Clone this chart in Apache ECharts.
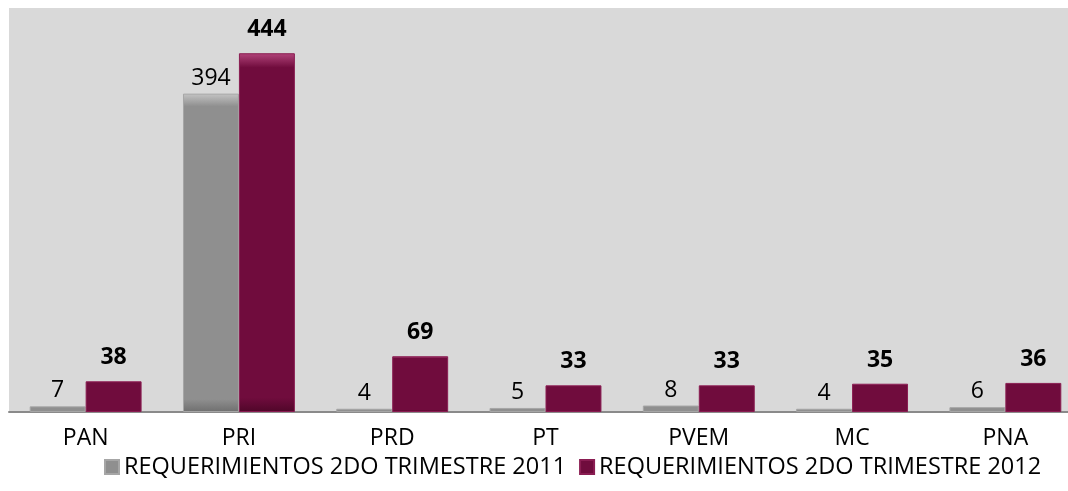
<!DOCTYPE html>
<html><head><meta charset="utf-8">
<script src="https://cdn.jsdelivr.net/npm/echarts@6/dist/echarts.min.js"></script>
<style>html,body{margin:0;padding:0;background:#fff}#c{width:1068px;height:491px}</style>
</head><body><div id="c"></div>
<script>
const categories = ['PAN','PRI','PRD','PT','PVEM','MC','PNA'];
const seriesNames = ['REQUERIMIENTOS 2DO TRIMESTRE 2011','REQUERIMIENTOS 2DO TRIMESTRE 2012'];
const values2011 = [7,394,4,5,8,4,6];
const values2012 = [38,444,69,33,33,35,36];

const font = '"Open Sans", "Noto Sans", sans-serif';
const chart = echarts.init(document.getElementById('c'));
function grad(light, mid, dark){
  return new echarts.graphic.LinearGradient(0,0,0,1,[
    {offset:0,color:light},{offset:0.04,color:mid},{offset:0.96,color:mid},{offset:1,color:dark}
  ]);
}
chart.setOption({
  animation:false,
  grid:{left:9, width:1073, top:8, bottom:79, show:true, backgroundColor:'#d9d9d9', borderWidth:0,
        outerBoundsMode:'none', containLabel:false},
  legend:{
    bottom:7, left:99, itemWidth:14, itemHeight:14, itemGap:13,
    icon:'rect',
    textStyle:{fontFamily:font, fontSize:23.5, color:'#000'},
    data:seriesNames
  },
  xAxis:{
    type:'category', data:categories,
    axisLine:{lineStyle:{color:'#8a8a8a', width:2}},
    axisTick:{show:false},
    axisLabel:{fontFamily:font, fontSize:23, color:'#000', margin:15}
  },
  yAxis:{type:'value', min:0, max:500, show:false, splitLine:{show:false}},
  series:[
    {name:seriesNames[0], type:'bar', data:values2011, barWidth:'36.5%', barGap:'0%',
     itemStyle:{color:grad('#c4c4c4','#8f8f8f','#6f6f6f'), borderColor:'#a6a6a6', borderWidth:1},
     label:{show:true, position:'top', distance:4, fontFamily:font, fontSize:23, color:'#000'}},
    {name:seriesNames[1], type:'bar', data:values2012, barWidth:'36.5%', barGap:'0%',
     itemStyle:{color:grad('#b2447a','#700c3d','#4f0629'), borderColor:'#8a1d52', borderWidth:1},
     label:{show:true, position:'top', distance:12, fontFamily:font, fontSize:23, fontWeight:'bold', color:'#000'}}
  ]
});
</script></body></html>
